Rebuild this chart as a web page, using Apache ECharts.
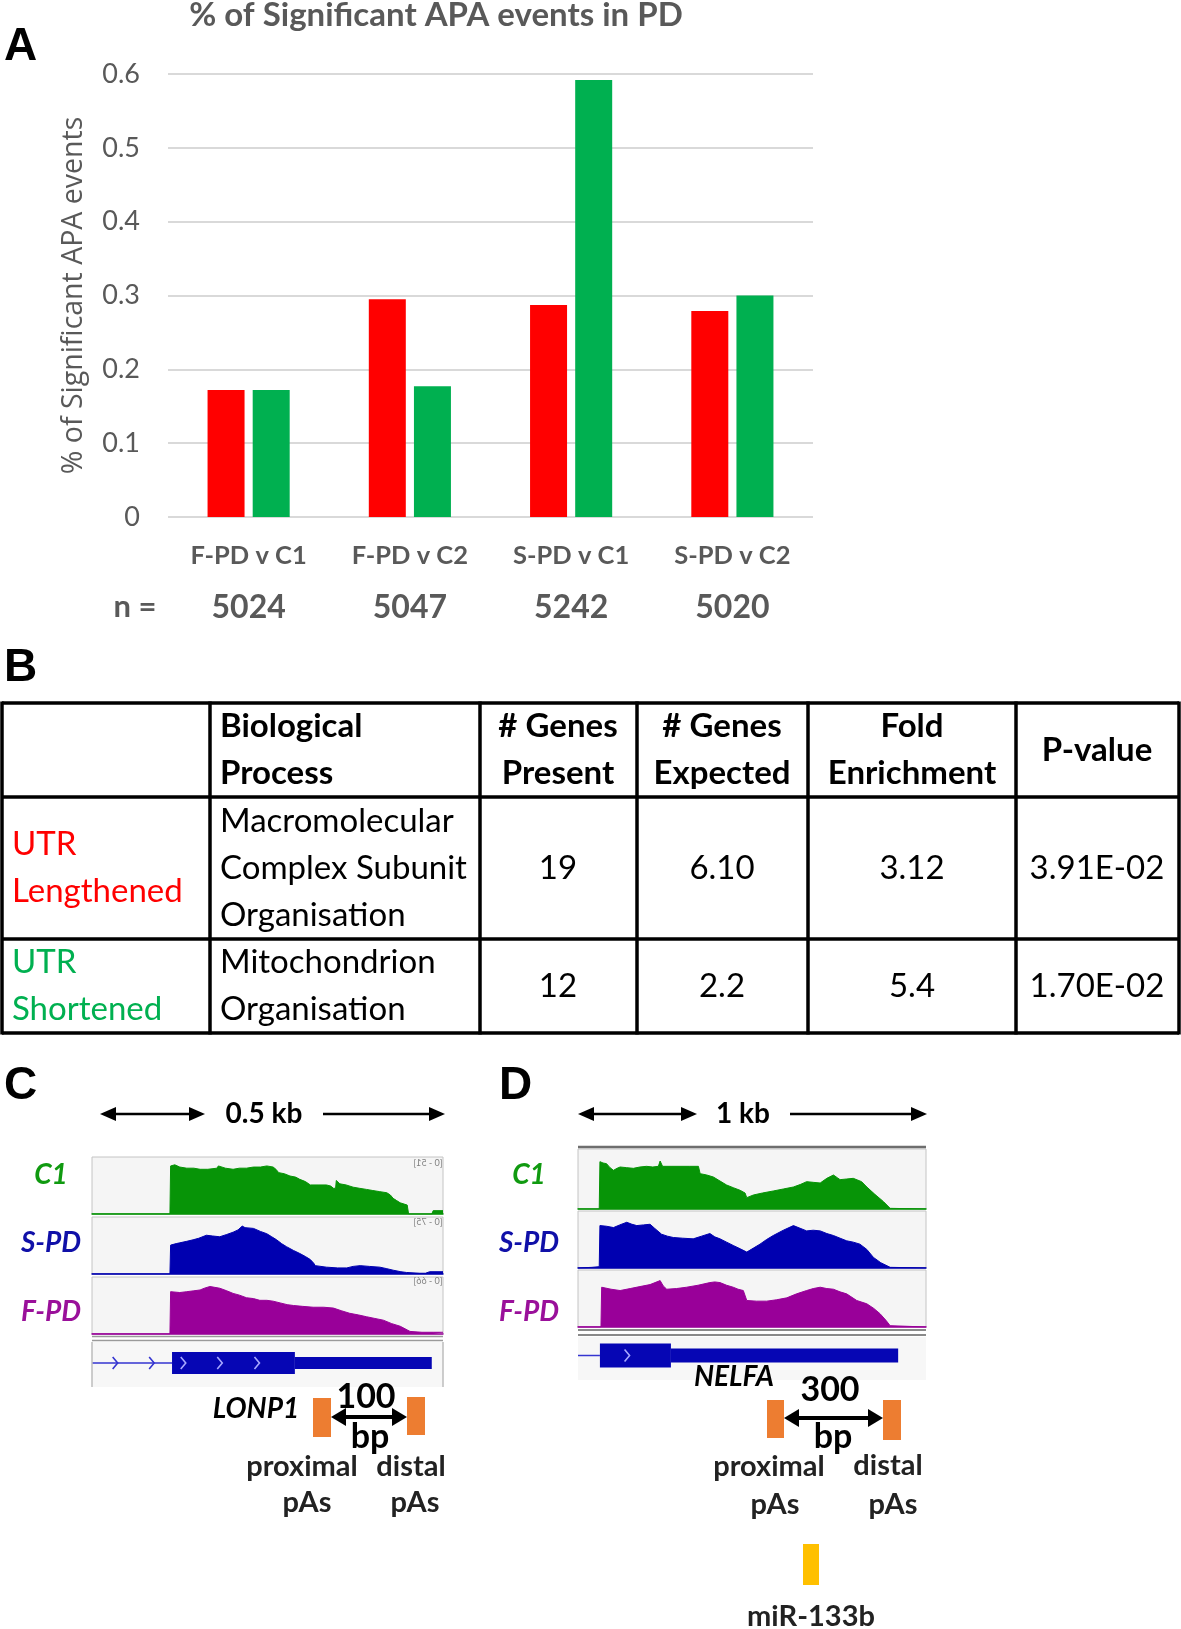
<!DOCTYPE html>
<html><head><meta charset="utf-8">
<script src="https://cdn.jsdelivr.net/npm/echarts@6/dist/echarts.min.js"></script>
<style>html,body{margin:0;padding:0;background:#fff}#c{width:1181px;height:1629px}</style>
</head><body><div id="c"></div><script>
// ---------- Panel A data ----------
const categories = ['F-PD v C1', 'F-PD v C2', 'S-PD v C1', 'S-PD v C2'];
const nCounts = [5024, 5047, 5242, 5020];
const lengthened = [0.172, 0.295, 0.287, 0.279];
const shortened = [0.172, 0.177, 0.592, 0.300];

// ---------- Panel B data ----------
const tableHeader = ['', 'Biological\nProcess', '# Genes\nPresent', '# Genes\nExpected', 'Fold\nEnrichment', 'P-value'];
const rowLabels = ['UTR\nLengthened', 'UTR\nShortened'];
const processes = ['Macromolecular\nComplex Subunit\nOrganisation', 'Mitochondrion\nOrganisation'];
const genesPresent = ['19', '12'];
const genesExpected = ['6.10', '2.2'];
const foldEnrichment = ['3.12', '5.4'];
const pValues = ['3.91E-02', '1.70E-02'];

// ---------- Panel C data (LONP1, bp 0-500) ----------
const lonp1Scales = [51, 75, 66];
const lonp1C1 = [[0,0],[111,0],[112,43],[118,44],[125,42],[135,41],[145,41],[154,40],[165,40],[178,41],[180,43],[190,41],[201,40],[210,41],[220,41],[230,42],[240,42],[249,43],[258,42],[262,40],[266,37],[274,36],[282,34],[290,33],[296,31],[304,29],[311,26],[322,26],[334,26],[340,25],[344,23],[347,23],[348,30],[353,27],[362,26],[372,24],[381,23],[391,22],[400,21],[410,20],[420,19],[425,17],[429,14],[434,12],[439,10],[449,8],[451,0],[484,0],[486,3],[500,3]];
const lonp1SPD = [[0,0],[111,0],[112,38],[120,40],[125,41],[135,43],[144,45],[152,47],[163,51],[172,50],[182,49],[192,52],[201,55],[208,58],[214,63],[218,61],[230,60],[240,56],[249,53],[256,49],[263,45],[270,40],[277,36],[287,31],[296,27],[304,23],[311,19],[316,14],[318,11],[334,9],[350,8],[363,8],[372,10],[382,11],[395,10],[410,9],[420,7],[429,5],[440,3],[448,2],[467,1],[475,1],[481,3],[500,3]];
const lonp1FPD = [[0,0],[111,0],[112,49],[125,48],[135,49],[145,50],[154,51],[160,53],[168,55],[175,54],[182,53],[192,50],[201,47],[210,45],[220,42],[230,41],[239,39],[249,39],[258,38],[268,36],[278,34],[287,33],[300,32],[315,31],[330,31],[344,30],[355,27],[367,24],[380,22],[391,20],[403,18],[415,16],[427,12],[439,9],[446,6],[453,3],[470,2],[486,2],[500,2]];
// gene model: [start, end, kind] kind 0 = intron line, 1 = coding exon, 2 = UTR
const lonp1Gene = [[0,114,0],[114,289,1],[289,484,2]];
const lonp1Chevrons = [[33,0],[85,0],[130,1],[182,1],[235,1]];

// ---------- Panel D data (NELFA, bp 0-1000) ----------
const nelfaScales = [90, 86, 86];
const nelfaC1 = [[0,0],[61,0],[63,71],[72,69],[82,68],[92,62],[102,58],[112,61],[121,63],[140,62],[159,61],[178,63],[197,64],[215,63],[231,64],[236,72],[243,64],[270,64],[293,64],[320,64],[346,64],[351,53],[370,51],[389,48],[408,42],[427,36],[446,32],[466,28],[480,24],[485,17],[504,21],[530,24],[561,27],[590,30],[619,33],[640,37],[657,41],[676,40],[696,39],[715,46],[734,51],[745,47],[753,44],[772,45],[791,46],[815,41],[830,33],[853,22],[878,11],[897,1],[899,0],[1000,0]];
const nelfaSPD = [[0,0],[40,1],[61,2],[63,64],[82,63],[102,61],[120,65],[140,69],[155,66],[169,64],[188,65],[207,66],[220,60],[240,51],[257,48],[274,46],[300,45],[331,44],[355,48],[379,52],[393,47],[408,44],[427,39],[446,34],[466,29],[485,24],[504,30],[523,36],[542,43],[561,49],[590,57],[619,64],[638,60],[657,56],[676,57],[696,56],[715,52],[734,49],[753,45],[772,41],[791,39],[810,36],[830,28],[849,16],[870,8],[897,1],[900,0],[1000,0]];
const nelfaFPD = [[0,0],[66,0],[68,60],[95,57],[121,55],[150,58],[178,61],[207,64],[236,70],[245,62],[255,57],[283,58],[312,60],[345,63],[379,67],[393,68],[408,67],[427,63],[446,60],[460,57],[475,55],[485,40],[513,39],[542,39],[570,41],[600,44],[628,50],[657,55],[676,58],[696,60],[715,58],[734,57],[753,53],[772,50],[801,40],[830,35],[850,28],[868,20],[885,10],[897,2],[900,0],[1000,0]];
const nelfaGene = [[0,63,0],[63,267,1],[267,920,2]];
const nelfaChevrons = [[141,1]];

const trackNames = ['C1', 'S-PD', 'F-PD'];

// ---------- styling ----------
const FONT = 'Lato, "Noto Sans", sans-serif';
const GRAY = '#595959';
const trackColors = ['#079407', '#0000b0', '#990099'];
const labelColors = ['#109a10', '#1010a8', '#9a109a'];

const G = [];
function T(x, y, text, o) {
  o = o || {};
  G.push({type: 'text', x: x, y: y, silent: true, z: 100, rotation: o.rot || 0, scaleX: o.sx || 1,
    style: {text: text, fill: o.color || '#000', fontFamily: o.family || FONT, fontSize: o.size || 26,
      fontWeight: o.weight || 'normal', fontStyle: o.italic ? 'italic' : 'normal',
      align: o.align || 'center', verticalAlign: o.va || 'middle', lineHeight: o.lh || undefined}});
}
function L(x1, y1, x2, y2, w, c) {
  G.push({type: 'line', silent: true, z: 100, shape: {x1: x1, y1: y1, x2: x2, y2: y2}, style: {stroke: c || '#000', lineWidth: w || 2}});
}
function R(x, y, w, h, c, z) {
  G.push({type: 'rect', silent: true, z: z === undefined ? 100 : z, shape: {x: x, y: y, width: w, height: h}, style: {fill: c}});
}
function P(points, c) {
  G.push({type: 'polygon', silent: true, z: 100, shape: {points: points}, style: {fill: c || '#000'}});
}
function dblArrow(x1, x2, y, w, hl, hw) {
  L(x1 + hl * 0.7, y, x2 - hl * 0.7, y, w);
  P([[x1, y], [x1 + hl, y - hw], [x1 + hl, y + hw]]);
  P([[x2, y], [x2 - hl, y - hw], [x2 - hl, y + hw]]);
}

// Panel letters
const LETTER = {family: '"Liberation Sans", Arial, sans-serif', size: 46, weight: 'bold', align: 'left'};
T(4, 47, 'A', LETTER); T(4, 668, 'B', LETTER); T(4, 1086, 'C', LETTER); T(499, 1086, 'D', LETTER);

// Panel A title and n =
T(436, 15, '% of Significant APA events in PD', {size: 33, weight: 'bold', color: GRAY});
T(135, 607, 'n =', {size: 31, weight: 'bold', color: GRAY});

// Panel B table
const colX = [2, 210, 480, 637, 808, 1016, 1179];
const rowY = [703, 797, 939, 1033];
colX.forEach(function (x) { L(x, rowY[0] - 1.5, x, rowY[3] + 1.5, 3.5); });
rowY.forEach(function (y) { L(colX[0], y, colX[6], y, 3.5); });
const TB = {size: 33, lh: 47};
const cellCx = [558, 722, 912, 1097];
const hY = (rowY[0] + rowY[1]) / 2;
T(220, hY, tableHeader[1], Object.assign({}, TB, {weight: 'bold', align: 'left'}));
for (let i = 2; i < 6; i++) T(cellCx[i - 2], hY, tableHeader[i], Object.assign({}, TB, {weight: 'bold'}));
const rowColors = ['#ff0000', '#00b050'];
for (let r = 0; r < 2; r++) {
  const cy = (rowY[r + 1] + rowY[r + 2]) / 2;
  T(12, cy, rowLabels[r], Object.assign({}, TB, {align: 'left', color: rowColors[r]}));
  T(220, cy, processes[r], Object.assign({}, TB, {align: 'left'}));
  [genesPresent[r], genesExpected[r], foldEnrichment[r], pValues[r]].forEach(function (v, i) {
    T(cellCx[i], cy, v, TB);
  });
}

// Panel C / D scale arrows
dblArrow(100, 205, 1114, 2.5, 16, 7); L(323, 1114, 430, 1114, 2.5); P([[445, 1114], [429, 1107], [429, 1121]]);
T(264, 1114, '0.5 kb', {size: 28, weight: 'bold'});
dblArrow(578, 697, 1114, 2.5, 16, 7); L(790, 1114, 912, 1114, 2.5); P([[927, 1114], [911, 1107], [911, 1121]]);
T(743, 1114, '1 kb', {size: 28, weight: 'bold'});

// track labels
const cLabelY = [1175, 1243, 1312];
trackNames.forEach(function (n, i) {
  T(51, cLabelY[i], n, {size: 28, weight: 'bold', italic: true, color: labelColors[i]});
  T(529, cLabelY[i], n, {size: 28, weight: 'bold', italic: true, color: labelColors[i]});
});
// IGV data range labels (mirrored in original)
[1163, 1222, 1281].forEach(function (y, i) { T(428, y, '[0 - ' + lonp1Scales[i] + ']', {size: 9, color: '#808080', sx: -1}); });

// gene track frames
R(92, 1342, 351, 45, '#f7f7f7', -1);
R(578, 1337, 348, 43, '#f7f7f7', -1);
L(92, 1336.5, 443, 1336.5, 1.5, '#9a9a9a'); L(92, 1340.5, 443, 1340.5, 1.5, '#9a9a9a');
L(92, 1342, 92, 1387, 1.5, '#bdbdbd'); L(443, 1342, 443, 1387, 1.5, '#bdbdbd');
L(578, 1330, 926, 1330, 2, '#8a8a8a'); L(578, 1335, 926, 1335, 2, '#8a8a8a');
L(578, 1147, 926, 1147, 2.5, '#6e6e6e');

// Panel C annotations
const ANN = {size: 29, weight: 'bold', color: '#222'};
T(256, 1409, 'LONP1', {size: 28, weight: 'bold', italic: true});
R(313, 1398, 18, 39, '#ed7d31'); R(407, 1397, 18, 38, '#ed7d31');
dblArrow(331, 407, 1417, 4, 15, 9);
T(366, 1397, '100', {size: 34, weight: 'bold'});
T(370, 1437, 'bp', {size: 34, weight: 'bold'});
T(302, 1467, 'proximal', ANN);
T(411, 1467, 'distal', ANN);
T(307, 1503, 'pAs', ANN);
T(415, 1503, 'pAs', ANN);

// Panel D annotations
T(734, 1377, 'NELFA', {size: 28, weight: 'bold', italic: true});
R(767, 1400, 17, 38, '#ed7d31'); R(883, 1400, 18, 40, '#ed7d31');
dblArrow(784, 883, 1418, 4, 15, 9);
T(830, 1390, '300', {size: 34, weight: 'bold'});
T(833, 1437, 'bp', {size: 34, weight: 'bold'});
T(769, 1467, 'proximal', ANN);
T(888, 1466, 'distal', ANN);
T(775, 1505, 'pAs', ANN);
T(893, 1505, 'pAs', ANN);
R(803, 1544, 16, 41, '#ffc000');
T(811, 1617, 'miR-133b', ANN);

// ---------- grids ----------
const trackGrid = {show: true, backgroundColor: '#f5f5f5', borderColor: '#c4c4c4', borderWidth: 1};
const grids = [
  {left: 168, top: 74, width: 645, height: 443},
  Object.assign({left: 92, top: 1157, width: 351, height: 57}, trackGrid),
  Object.assign({left: 92, top: 1217, width: 351, height: 57}, trackGrid),
  Object.assign({left: 92, top: 1277, width: 351, height: 57}, trackGrid),
  {left: 92, top: 1341, width: 351, height: 44},
  Object.assign({left: 578, top: 1149, width: 348, height: 60}, trackGrid),
  Object.assign({left: 578, top: 1211, width: 348, height: 57}, trackGrid),
  Object.assign({left: 578, top: 1270, width: 348, height: 57}, trackGrid),
  {left: 578, top: 1334, width: 348, height: 43}
];

const xAxes = [{
  type: 'category', gridIndex: 0, data: categories,
  axisLine: {show: false}, axisTick: {show: false},
  axisLabel: {
    margin: 23, interval: 0,
    formatter: function (v, i) { return '{c|' + v + '}\n{s| }\n{n|' + nCounts[i] + '}'; },
    rich: {
      c: {fontFamily: FONT, fontWeight: 'bold', fontSize: 25.5, color: GRAY, lineHeight: 32},
      s: {fontSize: 2, lineHeight: 18},
      n: {fontFamily: FONT, fontWeight: 'bold', fontSize: 32, color: GRAY, lineHeight: 36}
    }
  }
}];
const yAxes = [{
  type: 'value', gridIndex: 0, min: 0, max: 0.6, interval: 0.1,
  axisLine: {show: false}, axisTick: {show: false},
  axisLabel: {margin: 28, color: GRAY, fontSize: 27, fontFamily: FONT,
    formatter: function (v) { return v === 0 ? '0' : v.toFixed(1); }},
  splitLine: {lineStyle: {color: '#d9d9d9', width: 2}},
  name: '% of Significant APA events', nameLocation: 'middle', nameGap: 80,
  nameTextStyle: {color: GRAY, fontSize: 28.5, fontFamily: '"Open Sans", sans-serif'}
}];

function addTrackAxes(gridIndex, maxX, maxY, color) {
  xAxes.push({type: 'value', gridIndex: gridIndex, min: 0, max: maxX,
    axisLine: {show: true, onZero: false, lineStyle: {color: color, width: 1.5}},
    axisTick: {show: false}, axisLabel: {show: false}, splitLine: {show: false}});
  yAxes.push({type: 'value', gridIndex: gridIndex, min: 0, max: maxY, show: false});
}
function addGeneAxes(gridIndex, maxX) {
  xAxes.push({type: 'value', gridIndex: gridIndex, min: 0, max: maxX, show: false});
  yAxes.push({type: 'value', gridIndex: gridIndex, min: -1, max: 1, show: false});
}
addTrackAxes(1, 500, lonp1Scales[0], trackColors[0]);
addTrackAxes(2, 500, lonp1Scales[1], trackColors[1]);
addTrackAxes(3, 500, lonp1Scales[2], trackColors[2]);
addGeneAxes(4, 500);
addTrackAxes(5, 1000, nelfaScales[0], trackColors[0]);
addTrackAxes(6, 1000, nelfaScales[1], trackColors[1]);
addTrackAxes(7, 1000, nelfaScales[2], trackColors[2]);
addGeneAxes(8, 1000);

function coverage(idx, data, color) {
  return {type: 'line', xAxisIndex: idx, yAxisIndex: idx, data: data, symbol: 'none', silent: true,
    lineStyle: {width: 1, color: color}, itemStyle: {color: color}, areaStyle: {color: color, opacity: 1}};
}
function geneSeries(idx, data, thickH, thinH) {
  return {type: 'custom', xAxisIndex: idx, yAxisIndex: idx, data: data, silent: true,
    renderItem: function (params, api) {
      const a = api.coord([api.value(0), 0]);
      const b = api.coord([api.value(1), 0]);
      const k = api.value(2);
      if (k === 0) return {type: 'line', shape: {x1: a[0], y1: a[1], x2: b[0], y2: a[1]}, style: {stroke: '#3535d0', lineWidth: 1.5}};
      const h = k === 1 ? thickH : thinH;
      return {type: 'rect', shape: {x: a[0], y: a[1] - h / 2, width: b[0] - a[0], height: h}, style: {fill: '#0606b4'}};
    }};
}
function chevronSeries(idx, data) {
  return {type: 'custom', xAxisIndex: idx, yAxisIndex: idx, data: data, silent: true, z: 5,
    renderItem: function (params, api) {
      const p = api.coord([api.value(0), 0]);
      const on = api.value(1) === 1;
      return {type: 'polyline', shape: {points: [[p[0] - 2.5, p[1] - 6], [p[0] + 2.5, p[1]], [p[0] - 2.5, p[1] + 6]]},
        style: {stroke: on ? '#a8a8ff' : '#3535d0', lineWidth: 1.6, fill: null}};
    }};
}

const option = {
  animation: false,
  backgroundColor: '#ffffff',
  grid: grids,
  xAxis: xAxes,
  yAxis: yAxes,
  graphic: {elements: G},
  series: [
    {type: 'bar', name: 'UTR lengthened', xAxisIndex: 0, yAxisIndex: 0, data: lengthened, barWidth: 37, barGap: '22%', itemStyle: {color: '#ff0000'}},
    {type: 'bar', name: 'UTR shortened', xAxisIndex: 0, yAxisIndex: 0, data: shortened, barWidth: 37, barGap: '22%', itemStyle: {color: '#00b050'}},
    coverage(1, lonp1C1, trackColors[0]),
    coverage(2, lonp1SPD, trackColors[1]),
    coverage(3, lonp1FPD, trackColors[2]),
    geneSeries(4, lonp1Gene, 22, 12),
    chevronSeries(4, lonp1Chevrons),
    coverage(5, nelfaC1, trackColors[0]),
    coverage(6, nelfaSPD, trackColors[1]),
    coverage(7, nelfaFPD, trackColors[2]),
    geneSeries(8, nelfaGene, 24, 14),
    chevronSeries(8, nelfaChevrons)
  ]
};
const chart = echarts.init(document.getElementById('c'));
chart.setOption(option);
</script></body></html>
